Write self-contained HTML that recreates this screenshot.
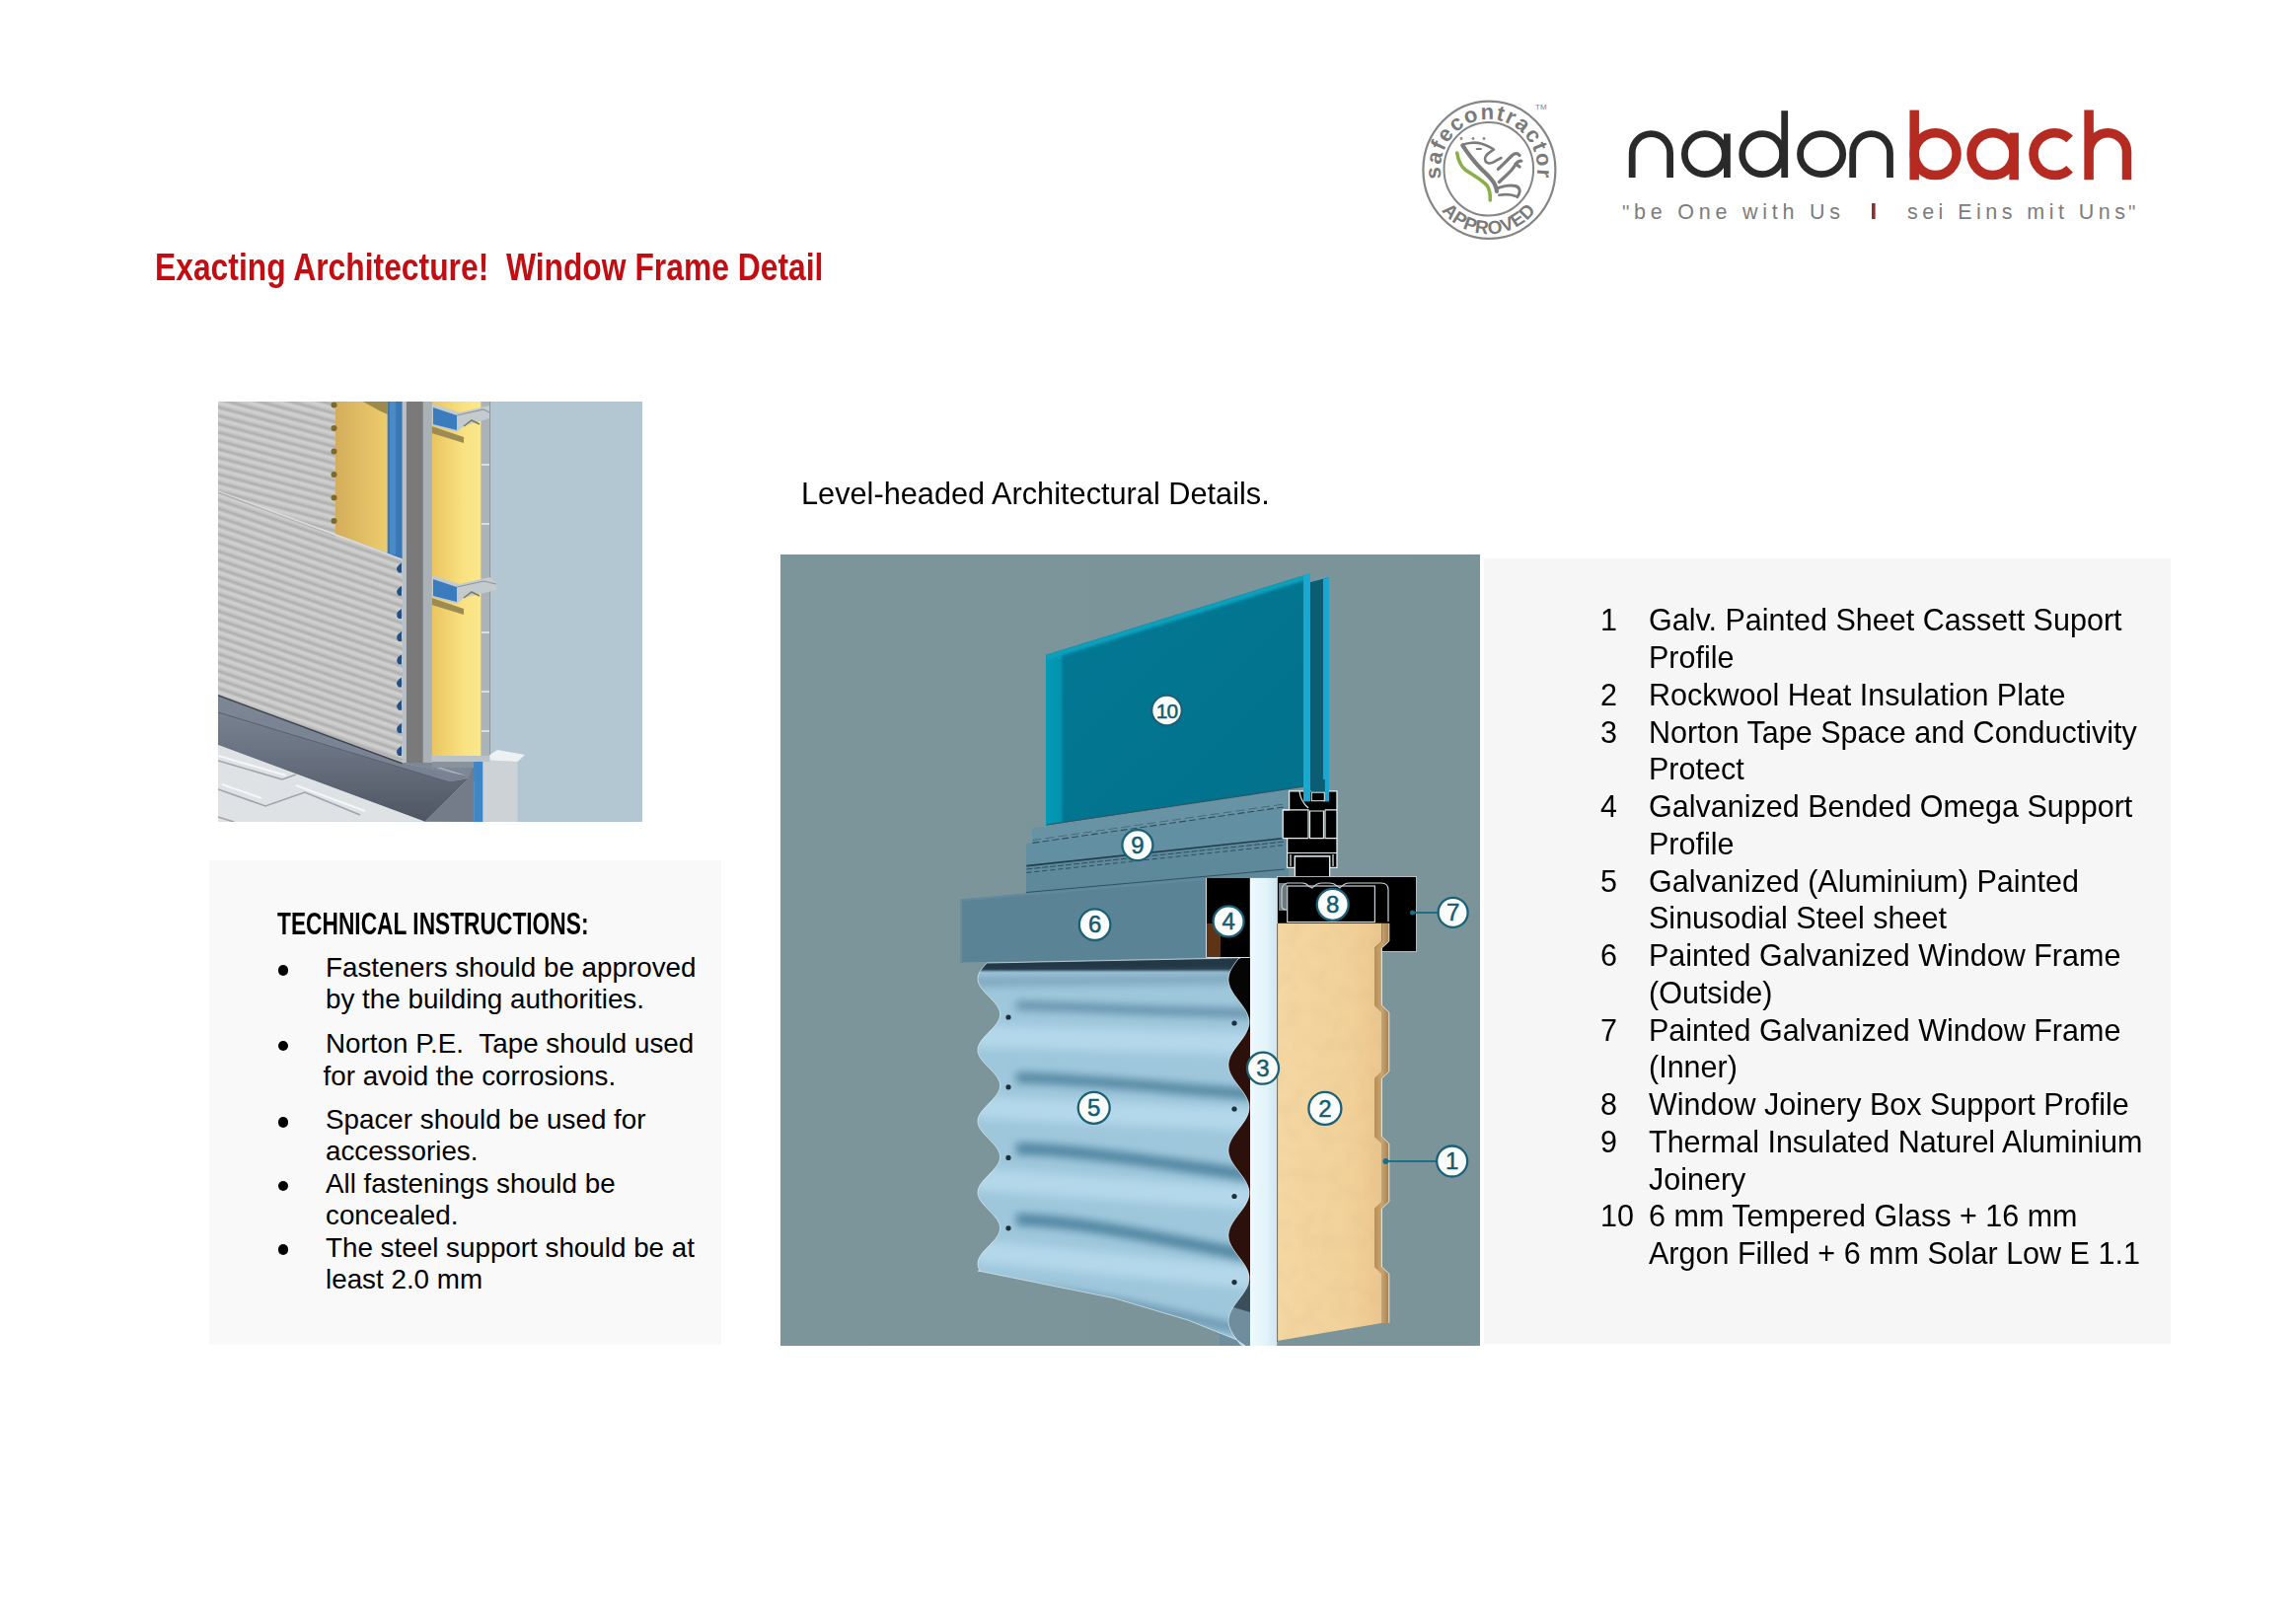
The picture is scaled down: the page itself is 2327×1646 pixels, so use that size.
<!DOCTYPE html>
<html><head><meta charset="utf-8">
<style>
html,body{margin:0;padding:0;background:#fff;}
body{width:2327px;height:1646px;position:relative;overflow:hidden;font-family:"Liberation Sans",sans-serif;color:#000;}
.abs{position:absolute;}
.t{position:absolute;white-space:pre;line-height:1;transform-origin:0 0;}
.bul{position:absolute;width:10.8px;height:10.8px;border-radius:50%;background:#000;}
svg{position:absolute;display:block;}
</style></head><body>
<svg width="800" height="180" viewBox="1400 85 800 180" style="left:1400px;top:85px">
<defs><path id="arcTop" d="M1468.9,201.3 A49,51 0 1 1 1549.1,201.3"/><path id="arcBot" d="M1447.9,183.3 A62,65 0 0 0 1570.1,183.3"/></defs>
<ellipse cx="1509.4" cy="172.3" rx="67" ry="69.6" fill="none" stroke="#858585" stroke-width="2.2"/>
<ellipse cx="1508.8" cy="171.3" rx="45.3" ry="47.3" fill="none" stroke="#858585" stroke-width="2"/>
<text font-family="Liberation Sans" font-size="22" font-weight="bold" fill="#7a7a7a" letter-spacing="1.6"><textPath href="#arcTop" startOffset="50%" text-anchor="middle">safecontractor</textPath></text>
<text font-family="Liberation Sans" font-size="19" font-weight="bold" fill="#7a7a7a" letter-spacing="0.5"><textPath href="#arcBot" startOffset="50%" text-anchor="middle">APPROVED</textPath></text>
<text x="1556" y="111" font-family="Liberation Sans" font-size="8" fill="#808080">TM</text>
<circle cx="1481" cy="140.5" r="1.4" fill="#8a8a8a"/>
<circle cx="1493" cy="140.5" r="1.4" fill="#8a8a8a"/>
<circle cx="1504" cy="140.5" r="1.4" fill="#8a8a8a"/>
<path d="M1482.3,147.4 C1486,153 1494,164 1501,171 C1508,178 1512,181 1515,187 C1517,191 1517,193 1516.9,194" fill="none" stroke="#7c7c7c" stroke-linecap="round" stroke-linejoin="round" stroke-width="4.2"/>
<path d="M1483,146.5 C1488,144.5 1496,144 1501,145.5 C1505,146.5 1510,149 1514,151.5 C1511,153.5 1508,155 1506,158 C1504,161 1505,165 1509,165.5 C1513,166 1517,162 1521.5,160" fill="none" stroke="#7c7c7c" stroke-linecap="round" stroke-linejoin="round" stroke-width="2.6"/>
<path d="M1496.6,151 L1501,151" fill="none" stroke="#7c7c7c" stroke-linecap="round" stroke-linejoin="round" stroke-width="1.8"/>
<path d="M1518.4,171.3 C1523,167 1529,161 1532,158 C1535,155 1538,155 1540,157.5" fill="none" stroke="#7c7c7c" stroke-linecap="round" stroke-linejoin="round" stroke-width="3.2"/>
<path d="M1519.4,184.5 C1524,180 1530,175 1533,171 C1536,167 1538,162 1541.8,163.2 M1536,166 L1540,169" fill="none" stroke="#7c7c7c" stroke-linecap="round" stroke-linejoin="round" stroke-width="3.2"/>
<path d="M1518.4,190.6 C1522,189 1530,187 1536,188.5 C1541,190 1541.5,195 1537.7,199.7" fill="none" stroke="#7c7c7c" stroke-linecap="round" stroke-linejoin="round" stroke-width="3"/>
<path d="M1519.4,197.7 C1524,197 1530,196.5 1535.7,198.7" fill="none" stroke="#7c7c7c" stroke-linecap="round" stroke-linejoin="round" stroke-width="2.6"/>
<path d="M1476.7,155 C1478,163 1480,168 1485,172 C1492,177 1502,182 1507,188 C1510,192 1510.5,197 1510.3,203" fill="none" stroke="#8bb04a" stroke-width="3.6" stroke-linecap="round"/>
<path d="M1654.2,180 V154.9 A19.2,19.2 0 0 1 1692.6,154.9 V180" fill="none" stroke="#2a2a2a" stroke-width="6.8"/>
<ellipse cx="1727.85" cy="156.15" rx="20.45" ry="20.45" fill="none" stroke="#2a2a2a" stroke-width="6.8"/><path d="M1750.4,135.5 V180" fill="none" stroke="#2a2a2a" stroke-width="6.8"/>
<ellipse cx="1786.15" cy="156.15" rx="20.45" ry="20.45" fill="none" stroke="#2a2a2a" stroke-width="6.8"/><path d="M1808.7,112.2 V180" fill="none" stroke="#2a2a2a" stroke-width="6.8"/>
<ellipse cx="1846.1" cy="156.15" rx="21.6" ry="20.45" fill="none" stroke="#2a2a2a" stroke-width="6.8"/>
<path d="M1877.7,180 V154.9 A18.9,19.2 0 0 1 1915.5,154.9 V180" fill="none" stroke="#2a2a2a" stroke-width="6.8"/>
<ellipse cx="1961.6" cy="156.1" rx="21.45" ry="21.45" fill="none" stroke="#b52a21" stroke-width="9.5"/><path d="M1940.2,111.6 V182.3" fill="none" stroke="#b52a21" stroke-width="9.5"/>
<ellipse cx="2019.5" cy="156.1" rx="21.45" ry="21.45" fill="none" stroke="#b52a21" stroke-width="9.5"/><path d="M2041.15,134.6 V182.3" fill="none" stroke="#b52a21" stroke-width="9.5"/>
<path d="M2097.6,140.9 A21.45,21.45 0 1 0 2097.6,171.3" fill="none" stroke="#b52a21" stroke-width="9.5"/>
<path d="M2117.1,111.6 V182.3 M2117.1,182.3 V153.85 A19.2,19.2 0 0 1 2155.5,153.85 V182.3" fill="none" stroke="#b52a21" stroke-width="9.5"/>
<text x="1644" y="221.7" font-family="Liberation Sans" font-size="21" fill="#858585">"</text>
<text x="1656" y="221.7" font-family="Liberation Sans" font-size="21.5" fill="#7c7c7c" textLength="209" lengthAdjust="spacing">be One with Us</text>
<rect x="1897" y="206" width="3.6" height="16" fill="#8a3030"/>
<text x="1933" y="221.7" font-family="Liberation Sans" font-size="21.5" fill="#7c7c7c" textLength="221" lengthAdjust="spacing">sei Eins mit Uns</text>
<text x="2157" y="221.7" font-family="Liberation Sans" font-size="21" fill="#858585">"</text>
</svg>
<div class="t" style="left:156.50px;top:252.44px;font-size:38.7px;font-weight:bold;color:#c20e12;transform:scaleX(0.8223);">Exacting Architecture!  Window Frame Detail</div>
<div class="t" style="left:812.00px;top:483.91px;font-size:32px;transform:scaleX(0.96);">Level-headed Architectural Details.</div>

<div class="abs" style="left:221px;top:407px;width:430px;height:426px;background:#b3c8d3;overflow:hidden;"><svg width="430" height="426" viewBox="221 407 430 426" style="left:0;top:0">
<defs>
<linearGradient id="cg" x1="0" y1="0" x2="0" y2="1"><stop offset="0" stop-color="#d4d4d4"/><stop offset="0.35" stop-color="#c6c6c6"/><stop offset="0.65" stop-color="#acacac"/><stop offset="1" stop-color="#d0d0d0"/></linearGradient>
<pattern id="corr" patternUnits="userSpaceOnUse" width="40" height="8.2" patternTransform="rotate(15)">
<rect width="40" height="8.2" fill="url(#cg)"/>
</pattern>
<pattern id="corr2" patternUnits="userSpaceOnUse" width="40" height="8.2" patternTransform="rotate(19)">
<rect width="40" height="8.2" fill="url(#cg)"/>
</pattern>
<linearGradient id="yel1" x1="0" y1="0" x2="1" y2="0"><stop offset="0" stop-color="#d4ad5c"/><stop offset="1" stop-color="#eccd6c"/></linearGradient>
<linearGradient id="yel2" x1="0" y1="0" x2="1" y2="0"><stop offset="0" stop-color="#e9c560"/><stop offset="0.6" stop-color="#f8e07e"/><stop offset="1" stop-color="#fbe88e"/></linearGradient>
<linearGradient id="sill" x1="0" y1="0" x2="0" y2="1"><stop offset="0" stop-color="#7d8796"/><stop offset="0.45" stop-color="#6a7382"/><stop offset="1" stop-color="#4f5662"/></linearGradient>
</defs>
<rect x="221" y="407" width="430" height="426" fill="#b3c7d2"/>
<rect x="437.5" y="407" width="50" height="361" fill="url(#yel2)"/>
<rect x="487.5" y="407" width="9" height="361" fill="#a9b3b8"/>
<path d="M496.5,407 L496.5,768" stroke="#8d979d" stroke-width="1"/>
<rect x="488" y="470" width="8" height="2" fill="#d6dde0"/>
<rect x="488" y="530" width="8" height="2" fill="#d6dde0"/>
<rect x="488" y="640" width="8" height="2" fill="#d6dde0"/>
<rect x="488" y="700" width="8" height="2" fill="#d6dde0"/>
<rect x="488" y="740" width="8" height="2" fill="#d6dde0"/>
<polygon points="437.5,409 466,418 496,411 496,416 496,424 470,432 463,438 437.5,431" fill="#c3cbcf"/>
<polygon points="439,413 463,421 463,436 439,430" fill="#3b7cbf"/>
<polygon points="437.5,432 470,443 470,449 437.5,439" fill="#9d8c52"/>
<path d="M463,421 L490,415 L496,418" stroke="#8e989d" stroke-width="1.2" fill="none"/>
<path d="M470,432 L478,426 L486,430" stroke="#7d7a55" stroke-width="1.5" fill="none"/>
<polygon points="437.5,583 466,592 496,585 503,590 503,598 470,606 463,612 437.5,605" fill="#c3cbcf"/>
<polygon points="439,587 463,595 463,610 439,604" fill="#3b7cbf"/>
<polygon points="437.5,606 470,617 470,623 437.5,613" fill="#9d8c52"/>
<path d="M463,595 L490,589 L503,592" stroke="#8e989d" stroke-width="1.2" fill="none"/>
<path d="M470,606 L478,600 L486,604" stroke="#7d7a55" stroke-width="1.5" fill="none"/>
<rect x="407.6" y="407" width="4.3" height="367" fill="#b9c1c8"/>
<rect x="411.9" y="407" width="17" height="367" fill="#7a7a7a"/>
<rect x="428.8" y="407" width="9" height="367" fill="#aab1b6"/>
<polygon points="339.6,407 392.7,407 392.7,560 339.6,541.6" fill="url(#yel1)"/>
<polygon points="368,407 392.7,407 392.7,420 384,416" fill="#9d8a4a"/>
<polygon points="392.7,407 407.6,407 407.6,567 392.7,562" fill="#3a77b6"/>
<rect x="395" y="407" width="6" height="155" fill="#4a8ac6"/>
<polygon points="221,407 339.6,407 339.6,541.6 407.6,567 407.6,774 221,704.8" fill="url(#corr)"/>
<polygon points="221,497.7 339.6,541.6 407.6,567 407.6,774 221,704.8" fill="url(#corr2)"/>
<path d="M221,497.7 L339.6,541.6 L407.6,567" stroke="#dedede" stroke-width="1.2" fill="none"/>
<path d="M221,499.5 L339.6,543.4" stroke="#a8a8a8" stroke-width="0.8" fill="none"/>
<circle cx="338.5" cy="410.6" r="3" fill="#7a6a2e"/>
<circle cx="338.5" cy="434.1" r="3" fill="#7a6a2e"/>
<circle cx="338.5" cy="457.6" r="3" fill="#7a6a2e"/>
<circle cx="338.5" cy="481.1" r="3" fill="#7a6a2e"/>
<circle cx="338.5" cy="504.6" r="3" fill="#7a6a2e"/>
<circle cx="338.5" cy="528.1" r="3" fill="#7a6a2e"/>
<path d="M407,570.5 Q399,575.5 404,580.5 L407,580.5 Z" fill="#244f80"/>
<path d="M407,593.7 Q399,598.7 404,603.7 L407,603.7 Z" fill="#244f80"/>
<path d="M407,616.9 Q399,621.9 404,626.9 L407,626.9 Z" fill="#244f80"/>
<path d="M407,640.1 Q399,645.1 404,650.1 L407,650.1 Z" fill="#244f80"/>
<path d="M407,663.3 Q399,668.3 404,673.3 L407,673.3 Z" fill="#244f80"/>
<path d="M407,686.5 Q399,691.5 404,696.5 L407,696.5 Z" fill="#244f80"/>
<path d="M407,709.7 Q399,714.7 404,719.7 L407,719.7 Z" fill="#244f80"/>
<path d="M407,732.9 Q399,737.9 404,742.9 L407,742.9 Z" fill="#244f80"/>
<path d="M407,756.1 Q399,761.1 404,766.1 L407,766.1 Z" fill="#244f80"/>
<polygon points="405,773 481,773 481,792 474,790 470,786" fill="#7d8896"/>
<path d="M438,776 L470,786" stroke="#a9b3bc" stroke-width="1.5"/>
<polygon points="221,704.8 407.6,773.8 470,786 474,790 430.6,832.7 221,755" fill="url(#sill)"/>
<polygon points="221,704.8 407.6,773.8 470,786 474,790 456,793 221,722" fill="#7b8595" opacity="0.9"/>
<path d="M221,704.8 L407.6,773.8" stroke="#3e4550" stroke-width="1.5"/>
<path d="M221,722 L456,793 L474,790" stroke="#59616c" stroke-width="1" fill="none"/>
<polygon points="221,755 430.6,832.7 221,833" fill="#dfe2e5"/>
<path d="M221,771 L286,790 M221,800 L269,817 L309,803 L365,826 M221,828 L237,833 M286,790 L300,785" stroke="#9ea4ab" stroke-width="1.6" fill="none"/>
<path d="M221,766 L290,786 M225,795 L265,809 M300,796 L370,822" stroke="#f4f6f8" stroke-width="2" fill="none"/>
<polygon points="430.6,832.7 474,790 480,776 480.2,833" fill="#737c88"/>
<rect x="438" y="768" width="42" height="10" fill="#8a939c"/>
<rect x="480.2" y="768" width="9.3" height="65" fill="#3f86c8"/>
<rect x="489.5" y="770" width="35" height="63" fill="#cdd2d7"/>
<polygon points="489.5,770 504,760 532,765 524.5,772" fill="#eef1f3"/>
<rect x="437.5" y="766" width="59" height="6" fill="#b9c3c8"/>
</svg></div>
<div class="abs" style="left:212px;top:872px;width:519px;height:491px;background:#f9f9f9;"></div>
<div class="t" style="left:281.00px;top:920.98px;font-size:30.5px;font-weight:bold;transform:scaleX(0.7457);">TECHNICAL INSTRUCTIONS:</div>
<div class="t" style="left:330.00px;top:966.87px;font-size:27.8px;">Fasteners should be approved</div>
<div class="t" style="left:330.00px;top:999.17px;font-size:27.8px;">by the building authorities.</div>
<div class="t" style="left:330.00px;top:1044.27px;font-size:27.8px;">Norton P.E.<span style="margin-left:8px"></span> Tape should used</div>
<div class="t" style="left:327.50px;top:1076.57px;font-size:27.8px;">for avoid the corrosions.</div>
<div class="t" style="left:330.00px;top:1121.17px;font-size:27.8px;">Spacer should be used for</div>
<div class="t" style="left:330.00px;top:1152.87px;font-size:27.8px;">accessories.</div>
<div class="t" style="left:330.00px;top:1186.27px;font-size:27.8px;">All fastenings should be</div>
<div class="t" style="left:330.00px;top:1217.97px;font-size:27.8px;">concealed.</div>
<div class="t" style="left:330.00px;top:1250.87px;font-size:27.8px;">The steel support should be at</div>
<div class="t" style="left:330.00px;top:1283.27px;font-size:27.8px;">least 2.0 mm</div>
<div class="bul" style="left:281.6px;top:977.9px"></div>
<div class="bul" style="left:281.6px;top:1054.6px"></div>
<div class="bul" style="left:281.6px;top:1131.8px"></div>
<div class="bul" style="left:281.6px;top:1196.5px"></div>
<div class="bul" style="left:281.6px;top:1261.2px"></div>

<div class="abs" style="left:1504px;top:566px;width:696px;height:796px;background:#f6f6f6;"></div>
<div class="t" style="left:1622.00px;top:613.25px;font-size:31.6px;transform:scaleX(0.966);">1</div>
<div class="t" style="left:1670.50px;top:613.25px;font-size:31.6px;transform:scaleX(0.966);">Galv. Painted Sheet Cassett Suport</div>
<div class="t" style="left:1670.50px;top:651.01px;font-size:31.6px;transform:scaleX(0.966);">Profile</div>
<div class="t" style="left:1622.00px;top:688.77px;font-size:31.6px;transform:scaleX(0.966);">2</div>
<div class="t" style="left:1670.50px;top:688.77px;font-size:31.6px;transform:scaleX(0.966);">Rockwool Heat Insulation Plate</div>
<div class="t" style="left:1622.00px;top:726.53px;font-size:31.6px;transform:scaleX(0.966);">3</div>
<div class="t" style="left:1670.50px;top:726.53px;font-size:31.6px;transform:scaleX(0.966);">Norton Tape Space and Conductivity</div>
<div class="t" style="left:1670.50px;top:764.29px;font-size:31.6px;transform:scaleX(0.966);">Protect</div>
<div class="t" style="left:1622.00px;top:802.05px;font-size:31.6px;transform:scaleX(0.966);">4</div>
<div class="t" style="left:1670.50px;top:802.05px;font-size:31.6px;transform:scaleX(0.966);">Galvanized Bended Omega Support</div>
<div class="t" style="left:1670.50px;top:839.81px;font-size:31.6px;transform:scaleX(0.966);">Profile</div>
<div class="t" style="left:1622.00px;top:877.57px;font-size:31.6px;transform:scaleX(0.966);">5</div>
<div class="t" style="left:1670.50px;top:877.57px;font-size:31.6px;transform:scaleX(0.966);">Galvanized (Aluminium) Painted</div>
<div class="t" style="left:1670.50px;top:915.33px;font-size:31.6px;transform:scaleX(0.966);">Sinusodial Steel sheet</div>
<div class="t" style="left:1622.00px;top:953.09px;font-size:31.6px;transform:scaleX(0.966);">6</div>
<div class="t" style="left:1670.50px;top:953.09px;font-size:31.6px;transform:scaleX(0.966);">Painted Galvanized Window Frame</div>
<div class="t" style="left:1670.50px;top:990.85px;font-size:31.6px;transform:scaleX(0.966);">(Outside)</div>
<div class="t" style="left:1622.00px;top:1028.61px;font-size:31.6px;transform:scaleX(0.966);">7</div>
<div class="t" style="left:1670.50px;top:1028.61px;font-size:31.6px;transform:scaleX(0.966);">Painted Galvanized Window Frame</div>
<div class="t" style="left:1670.50px;top:1066.37px;font-size:31.6px;transform:scaleX(0.966);">(Inner)</div>
<div class="t" style="left:1622.00px;top:1104.13px;font-size:31.6px;transform:scaleX(0.966);">8</div>
<div class="t" style="left:1670.50px;top:1104.13px;font-size:31.6px;transform:scaleX(0.966);">Window Joinery Box Support Profile</div>
<div class="t" style="left:1622.00px;top:1141.89px;font-size:31.6px;transform:scaleX(0.966);">9</div>
<div class="t" style="left:1670.50px;top:1141.89px;font-size:31.6px;transform:scaleX(0.966);">Thermal Insulated Naturel Aluminium</div>
<div class="t" style="left:1670.50px;top:1179.65px;font-size:31.6px;transform:scaleX(0.966);">Joinery</div>
<div class="t" style="left:1622.00px;top:1217.41px;font-size:31.6px;transform:scaleX(0.966);">10</div>
<div class="t" style="left:1670.50px;top:1217.41px;font-size:31.6px;transform:scaleX(0.966);">6 mm Tempered Glass + 16 mm</div>
<div class="t" style="left:1670.50px;top:1255.17px;font-size:31.6px;transform:scaleX(0.966);">Argon Filled + 6 mm Solar Low E 1.1</div>

<div class="abs" style="left:791px;top:562px;width:709px;height:802px;background:#7e9599;overflow:hidden;"><svg width="709" height="802" viewBox="791 562 709 802" style="left:0;top:0">
<defs>
<linearGradient id="bgG" x1="0" y1="0" x2="1" y2="0"><stop offset="0" stop-color="#7c959a"/><stop offset="1" stop-color="#7b949a"/></linearGradient>
<linearGradient id="tapeG" x1="0" y1="0" x2="1" y2="0"><stop offset="0" stop-color="#eefaff"/><stop offset="0.6" stop-color="#e2f3fa"/><stop offset="1" stop-color="#cfe6f1"/></linearGradient>
<linearGradient id="glassG" x1="0" y1="0" x2="1" y2="1"><stop offset="0" stop-color="#027995"/><stop offset="1" stop-color="#02718c"/></linearGradient>
<linearGradient id="sheetG" x1="0" y1="0" x2="1" y2="0"><stop offset="0" stop-color="#a4c8dc"/><stop offset="0.6" stop-color="#a8cde0"/><stop offset="1" stop-color="#98bfd3"/></linearGradient>
<linearGradient id="rwG" x1="0" y1="0" x2="1" y2="0"><stop offset="0" stop-color="#f5d7a2"/><stop offset="0.7" stop-color="#f2d199"/><stop offset="1" stop-color="#ebc68e"/></linearGradient>
<filter id="blur3" x="-20%" y="-50%" width="140%" height="200%"><feGaussianBlur stdDeviation="4"/></filter>
<filter id="blur1"><feGaussianBlur stdDeviation="1"/></filter>
<linearGradient id="bandG" x1="0" y1="0" x2="1" y2="0"><stop offset="0" stop-color="#b58e58"/><stop offset="0.5" stop-color="#c9a36c"/><stop offset="1" stop-color="#a88050"/></linearGradient>
<filter id="rwTex" filterUnits="userSpaceOnUse" x="1290" y="930" width="120" height="440"><feTurbulence type="fractalNoise" baseFrequency="0.06" numOctaves="2" seed="3"/><feColorMatrix type="matrix" values="0 0 0 0 0.55  0 0 0 0 0.4  0 0 0 0 0.2  0 0 0 -1.6 1.0"/><feComposite in2="SourceGraphic" operator="in"/></filter>
</defs>
<rect x="791" y="562" width="709" height="802" fill="url(#bgG)"/>
<polygon points="1328,590 1347,585 1347,800 1328,804" fill="#0b5d74"/>
<polygon points="1341,587 1347,585 1347,800 1341,801" fill="#1aa6d0"/>
<polygon points="1328,590 1347,585 1349,584 1330,589" fill="#2ab4da"/>
<polygon points="1060,663.8 1327,581.5 1323,797 1060,836.5" fill="url(#glassG)"/>
<linearGradient id="glL" x1="0" y1="0" x2="1" y2="0"><stop offset="0" stop-color="#049ab6"/><stop offset="0.8" stop-color="#0393af"/><stop offset="1" stop-color="#02829e"/></linearGradient><polygon points="1060,663.8 1077.5,658.4 1077.5,834 1060,836.5" fill="url(#glL)"/>
<filter id="gbl" filterUnits="userSpaceOnUse" x="1040" y="560" width="310" height="140"><feGaussianBlur stdDeviation="1.5"/></filter><clipPath id="gcl"><polygon points="1061,663.5 1327,581.5 1323,797 1061,836.5"/></clipPath><g clip-path="url(#gcl)"><polygon points="1055,664 1330,579 1330,586 1055,671" fill="#0aa0bd" filter="url(#gbl)"/></g>
<polygon points="1321,583 1328,581.5 1328,796 1321,797" fill="#19a8d2"/>

<polygon points="1046,840 1306,800 1306,892 1040,906 1040,855 1046,855" fill="#5e899b"/>
<polygon points="1046,840 1306,800 1306,818 1046,855" fill="#6893a5"/>
<polygon points="1040,855 1306,818 1306,849 1040,877.5" fill="#6290a2"/>
<path d="M1061,836 L1323,797" stroke="#2d5566" stroke-width="1.2" fill="none"/>
<path d="M1046.5,854.4 L1302,817.8" stroke="#2c4f5e" stroke-width="1.1" stroke-dasharray="7,3" fill="none"/>
<path d="M1046.5,851.6 L1302,815" stroke="#3b6272" stroke-width="0.8" stroke-dasharray="9,4" fill="none"/>
<path d="M1040.4,877.6 L1302,849.5" stroke="#1f3d4a" stroke-width="1.6" fill="none"/>
<path d="M1040.4,881 L1302,853" stroke="#2c4f5e" stroke-width="1" stroke-dasharray="6,2" fill="none"/>
<path d="M1040.4,884.5 L1302,856.5" stroke="#2c4f5e" stroke-width="1" stroke-dasharray="5,3" fill="none"/>
<path d="M1040,904.5 L1302,881" stroke="#2f5363" stroke-width="1.1" fill="none"/>
<g stroke="#e3eef2" stroke-width="1.3" fill="#000">
<path d="M1306.6,801.9 L1355,801.9 L1355,879.4 L1347.6,879.4 L1347.6,868 L1312.4,868 L1312.4,879.4 L1304.6,879.4 L1304.6,849.6 L1300.2,849.6 L1300.2,820.8 L1306.6,820.8 Z"/>
<rect x="1312.4" y="868" width="35.2" height="21.6"/>
</g>
<g fill="none" stroke="#e3eef2" stroke-width="1.2">
<path d="M1300.2,820.8 L1326,820.8 L1326,849.6 M1304.6,849.6 L1326,849.6"/>
<path d="M1327.5,822 L1341.5,822 L1341.5,849.6 L1327.5,849.6 Z"/>
<path d="M1343,820.8 L1355,820.8 M1343,820.8 L1343,849.6 L1355,849.6"/>
<path d="M1304.6,864.5 L1355,864.5"/>
<path d="M1308,866 L1308,878 M1351,866 L1351,878"/>
<path d="M1317,802 Q1318,812 1326,819"/>
</g>
<rect x="1321" y="790" width="7" height="22.4" fill="#19a8d2"/>
<rect x="1341" y="790" width="6" height="22.4" fill="#1aa6d0"/>
<rect x="1328.6" y="790" width="14.2" height="13" fill="#0b5d74"/>
<rect x="1329.3" y="803.2" width="13" height="8.5" fill="#000" stroke="#e3eef2" stroke-width="1"/>
<rect x="1294.5" y="888.5" width="141" height="76" fill="#000" stroke="#cfd8dc" stroke-width="0.8"/>
<g fill="none" stroke="#c9d3d8" stroke-width="1.2">
<path d="M1299,902 Q1299,896 1305,895 L1320,895 Q1324,895 1326,898 L1330,900 Q1334,895 1340,895 L1348,895 Q1352,895 1355,898 L1358,900 Q1362,895 1368,895 L1400,895 Q1407,895 1407,902 L1407,934"/>
<rect x="1304.7" y="898" width="88.7" height="36.5"/>
<path d="M1299,902 L1299,918 Q1299,922 1304,922"/>
</g>
<rect x="1296" y="895" width="8" height="28" fill="#b9cbd4" opacity="0.6"/>
<polygon points="1294.5,935.8 1400.4,935.8 1400.4,954.0 1393.0,961.0 1393.0,1019.0 1400.4,1026.0 1400.4,1086.0 1393.0,1093.0 1393.0,1152.0 1400.4,1159.0 1400.4,1218.0 1393.0,1225.0 1393.0,1284.0 1400.4,1291.0 1400.4,1341.0 1294.5,1359.0" fill="url(#rwG)"/>
<polygon points="1294.5,935.8 1400.4,935.8 1400.4,954.0 1393.0,961.0 1393.0,1019.0 1400.4,1026.0 1400.4,1086.0 1393.0,1093.0 1393.0,1152.0 1400.4,1159.0 1400.4,1218.0 1393.0,1225.0 1393.0,1284.0 1400.4,1291.0 1400.4,1341.0 1294.5,1359.0" fill="#000" filter="url(#rwTex)" opacity="0.14"/>
<polygon points="1400.4,935.8 1400.4,954.0 1393.0,961.0 1393.0,1019.0 1400.4,1026.0 1400.4,1086.0 1393.0,1093.0 1393.0,1152.0 1400.4,1159.0 1400.4,1218.0 1393.0,1225.0 1393.0,1284.0 1400.4,1291.0 1400.4,1341.0 1407.8,1341.0 1407.8,1291.0 1400.4,1284.0 1400.4,1225.0 1407.8,1218.0 1407.8,1159.0 1400.4,1152.0 1400.4,1093.0 1407.8,1086.0 1407.8,1026.0 1400.4,1019.0 1400.4,961.0 1407.8,954.0 1407.8,935.8" fill="url(#bandG)"/>
<polyline points="1407.8,935.8 1407.8,954.0 1400.4,961.0 1400.4,1019.0 1407.8,1026.0 1407.8,1086.0 1400.4,1093.0 1400.4,1152.0 1407.8,1159.0 1407.8,1218.0 1400.4,1225.0 1400.4,1284.0 1407.8,1291.0 1407.8,1341.0" fill="none" stroke="#e2e8e6" stroke-width="1"/>
<path d="M1294.5,936 L1294.5,1360" stroke="#6a5a40" stroke-width="1.2"/>
<rect x="1266.7" y="889.9" width="27.5" height="474.1" fill="url(#tapeG)"/>
<polygon points="973.3,911.5 1222,890 1222,970.5 973.3,975.5" fill="#5b8396"/>
<polygon points="973.3,911.5 1222,890 1222,892 973.3,913.5" fill="#628a9c"/>
<polygon points="973.3,911.5 975,911.3 975,975.4 973.3,975.5" fill="#6a90a0"/>
<rect x="1222" y="890" width="44.7" height="80.5" fill="#000"/>
<rect x="1223" y="936" width="14" height="34" fill="#5e3316"/>
<path d="M1222.5,890 L1222.5,970.5 L1266.7,970.5" stroke="#d8e2e6" stroke-width="1" fill="none"/>
<!-- SHEET -->
<rect x="1236" y="971" width="31" height="393" fill="#2c100b"/>
<polygon points="1236,1318 1267,1318 1267,1364 1236,1364" fill="#6f8d9c"/>
<polygon points="1240,1322 1267,1300 1267,1330" fill="#3b4f5a"/>
<rect x="1236" y="971" width="31" height="75" fill="#050505"/>
<filter id="bl4" filterUnits="userSpaceOnUse" x="950" y="950" width="360" height="450"><feGaussianBlur stdDeviation="4"/></filter>
<filter id="bl2" filterUnits="userSpaceOnUse" x="950" y="950" width="360" height="450"><feGaussianBlur stdDeviation="2"/></filter>
<clipPath id="shc"><polygon points="1003.0,976.0 1257.0,971.0 1255.6,971.0 1254.1,973.0 1252.6,975.0 1251.2,977.0 1249.8,979.0 1248.6,981.0 1247.5,983.0 1246.6,985.0 1245.9,987.0 1245.4,989.0 1245.1,991.0 1245.0,993.0 1245.1,995.0 1245.5,997.0 1246.1,999.0 1246.8,1001.0 1247.8,1003.0 1248.9,1005.0 1250.1,1007.0 1251.5,1009.0 1253.0,1011.0 1254.5,1013.0 1256.0,1015.0 1257.5,1017.0 1259.0,1019.0 1260.4,1021.0 1261.7,1023.0 1262.8,1025.0 1263.8,1027.0 1264.7,1029.0 1265.3,1031.0 1265.8,1033.0 1266.0,1035.0 1266.0,1037.0 1265.8,1039.0 1265.3,1041.0 1264.7,1043.0 1263.8,1045.0 1262.8,1047.0 1261.7,1049.0 1260.4,1051.0 1259.0,1053.0 1257.5,1055.0 1256.0,1057.0 1254.5,1059.0 1253.0,1061.0 1251.5,1063.0 1250.1,1065.0 1248.9,1067.0 1247.8,1069.0 1246.8,1071.0 1246.1,1073.0 1245.5,1075.0 1245.1,1077.0 1245.0,1079.0 1245.1,1081.0 1245.4,1083.0 1245.9,1085.0 1246.6,1087.0 1247.5,1089.0 1248.6,1091.0 1249.8,1093.0 1251.2,1095.0 1252.6,1097.0 1254.1,1099.0 1255.6,1101.0 1257.1,1103.0 1258.6,1105.0 1260.0,1107.0 1261.3,1109.0 1262.5,1111.0 1263.6,1113.0 1264.5,1115.0 1265.2,1117.0 1265.7,1119.0 1265.9,1121.0 1266.0,1123.0 1265.8,1125.0 1265.4,1127.0 1264.9,1129.0 1264.1,1131.0 1263.1,1133.0 1262.0,1135.0 1260.7,1137.0 1259.3,1139.0 1257.9,1141.0 1256.4,1143.0 1254.8,1145.0 1253.3,1147.0 1251.9,1149.0 1250.5,1151.0 1249.2,1153.0 1248.0,1155.0 1247.1,1157.0 1246.2,1159.0 1245.6,1161.0 1245.2,1163.0 1245.0,1165.0 1245.0,1167.0 1245.3,1169.0 1245.8,1171.0 1246.4,1173.0 1247.3,1175.0 1248.3,1177.0 1249.5,1179.0 1250.8,1181.0 1252.2,1183.0 1253.7,1185.0 1255.2,1187.0 1256.7,1189.0 1258.2,1191.0 1259.7,1193.0 1261.0,1195.0 1262.3,1197.0 1263.3,1199.0 1264.3,1201.0 1265.0,1203.0 1265.6,1205.0 1265.9,1207.0 1266.0,1209.0 1265.9,1211.0 1265.6,1213.0 1265.0,1215.0 1264.3,1217.0 1263.3,1219.0 1262.3,1221.0 1261.0,1223.0 1259.7,1225.0 1258.2,1227.0 1256.7,1229.0 1255.2,1231.0 1253.7,1233.0 1252.2,1235.0 1250.8,1237.0 1249.5,1239.0 1248.3,1241.0 1247.3,1243.0 1246.4,1245.0 1245.8,1247.0 1245.3,1249.0 1245.0,1251.0 1245.0,1253.0 1245.2,1255.0 1245.6,1257.0 1246.2,1259.0 1247.1,1261.0 1248.0,1263.0 1249.2,1265.0 1250.5,1267.0 1251.9,1269.0 1253.3,1271.0 1254.8,1273.0 1256.4,1275.0 1257.9,1277.0 1259.3,1279.0 1260.7,1281.0 1262.0,1283.0 1263.1,1285.0 1264.1,1287.0 1264.9,1289.0 1265.4,1291.0 1265.8,1293.0 1266.0,1295.0 1265.9,1297.0 1265.7,1299.0 1265.2,1301.0 1264.5,1303.0 1263.6,1305.0 1262.5,1307.0 1261.3,1309.0 1260.0,1311.0 1258.6,1313.0 1257.1,1315.0 1255.6,1317.0 1254.1,1319.0 1252.6,1321.0 1251.2,1323.0 1249.8,1325.0 1248.6,1327.0 1247.5,1329.0 1246.6,1331.0 1245.9,1333.0 1245.4,1335.0 1245.1,1337.0 1245.0,1339.0 1245.1,1341.0 1245.5,1343.0 1246.1,1345.0 1246.8,1347.0 1247.8,1349.0 1248.9,1351.0 1250.1,1353.0 1251.5,1355.0 1253.0,1357.0 1254.5,1359.0 1256.0,1361.0 1257.5,1363.0 1262,1364 1253.6,1358 1204,1338 1129,1315.7 1054.6,1300.8 991,1288 993.1,1288.0 992.1,1286.0 991.4,1284.0 991.1,1282.0 991.0,1280.0 991.3,1278.0 992.0,1276.0 992.9,1274.0 994.2,1272.0 995.6,1270.0 997.3,1268.0 999.1,1266.0 1001.1,1264.0 1003.0,1262.0 1005.0,1260.0 1006.8,1258.0 1008.6,1256.0 1010.1,1254.0 1011.4,1252.0 1012.4,1250.0 1013.1,1248.0 1013.5,1246.0 1013.6,1244.0 1013.3,1242.0 1012.7,1240.0 1011.7,1238.0 1010.5,1236.0 1009.0,1234.0 1007.4,1232.0 1005.5,1230.0 1003.6,1228.0 1001.7,1226.0 999.7,1224.0 997.9,1222.0 996.1,1220.0 994.6,1218.0 993.3,1216.0 992.2,1214.0 991.5,1212.0 991.1,1210.0 991.0,1208.0 991.3,1206.0 991.9,1204.0 992.8,1202.0 994.0,1200.0 995.5,1198.0 997.1,1196.0 999.0,1194.0 1000.9,1192.0 1002.8,1190.0 1004.8,1188.0 1006.7,1186.0 1008.4,1184.0 1010.0,1182.0 1011.3,1180.0 1012.3,1178.0 1013.1,1176.0 1013.5,1174.0 1013.6,1172.0 1013.3,1170.0 1012.7,1168.0 1011.8,1166.0 1010.6,1164.0 1009.2,1162.0 1007.5,1160.0 1005.7,1158.0 1003.8,1156.0 1001.9,1154.0 999.9,1152.0 998.0,1150.0 996.3,1148.0 994.7,1146.0 993.4,1144.0 992.3,1142.0 991.6,1140.0 991.1,1138.0 991.0,1136.0 991.2,1134.0 991.8,1132.0 992.7,1130.0 993.9,1128.0 995.3,1126.0 997.0,1124.0 998.8,1122.0 1000.7,1120.0 1002.6,1118.0 1004.6,1116.0 1006.5,1114.0 1008.2,1112.0 1009.8,1110.0 1011.2,1108.0 1012.2,1106.0 1013.0,1104.0 1013.5,1102.0 1013.6,1100.0 1013.4,1098.0 1012.8,1096.0 1011.9,1094.0 1010.8,1092.0 1009.4,1090.0 1007.7,1088.0 1005.9,1086.0 1004.0,1084.0 1002.1,1082.0 1000.1,1080.0 998.2,1078.0 996.5,1076.0 994.9,1074.0 993.5,1072.0 992.4,1070.0 991.6,1068.0 991.1,1066.0 991.0,1064.0 991.2,1062.0 991.7,1060.0 992.6,1058.0 993.8,1056.0 995.2,1054.0 996.8,1052.0 998.6,1050.0 1000.5,1048.0 1002.4,1046.0 1004.4,1044.0 1006.3,1042.0 1008.1,1040.0 1009.7,1038.0 1011.0,1036.0 1012.1,1034.0 1013.0,1032.0 1013.4,1030.0 1013.6,1028.0 1013.4,1026.0 1012.9,1024.0 1012.0,1022.0 1010.9,1020.0 1009.5,1018.0 1007.9,1016.0 1006.1,1014.0 1004.2,1012.0 1002.3,1010.0 1000.3,1008.0 998.4,1006.0 996.6,1004.0 995.0,1002.0 993.6,1000.0 992.5,998.0 991.7,996.0 991.2,994.0 991.0,992.0 991.2,990.0 991.7,988.0 992.5,986.0 993.6,984.0 995.0,982.0 996.6,980.0 998.4,978.0 1000.3,976.0"/></clipPath>
<polygon points="1003.0,976.0 1257.0,971.0 1255.6,971.0 1254.1,973.0 1252.6,975.0 1251.2,977.0 1249.8,979.0 1248.6,981.0 1247.5,983.0 1246.6,985.0 1245.9,987.0 1245.4,989.0 1245.1,991.0 1245.0,993.0 1245.1,995.0 1245.5,997.0 1246.1,999.0 1246.8,1001.0 1247.8,1003.0 1248.9,1005.0 1250.1,1007.0 1251.5,1009.0 1253.0,1011.0 1254.5,1013.0 1256.0,1015.0 1257.5,1017.0 1259.0,1019.0 1260.4,1021.0 1261.7,1023.0 1262.8,1025.0 1263.8,1027.0 1264.7,1029.0 1265.3,1031.0 1265.8,1033.0 1266.0,1035.0 1266.0,1037.0 1265.8,1039.0 1265.3,1041.0 1264.7,1043.0 1263.8,1045.0 1262.8,1047.0 1261.7,1049.0 1260.4,1051.0 1259.0,1053.0 1257.5,1055.0 1256.0,1057.0 1254.5,1059.0 1253.0,1061.0 1251.5,1063.0 1250.1,1065.0 1248.9,1067.0 1247.8,1069.0 1246.8,1071.0 1246.1,1073.0 1245.5,1075.0 1245.1,1077.0 1245.0,1079.0 1245.1,1081.0 1245.4,1083.0 1245.9,1085.0 1246.6,1087.0 1247.5,1089.0 1248.6,1091.0 1249.8,1093.0 1251.2,1095.0 1252.6,1097.0 1254.1,1099.0 1255.6,1101.0 1257.1,1103.0 1258.6,1105.0 1260.0,1107.0 1261.3,1109.0 1262.5,1111.0 1263.6,1113.0 1264.5,1115.0 1265.2,1117.0 1265.7,1119.0 1265.9,1121.0 1266.0,1123.0 1265.8,1125.0 1265.4,1127.0 1264.9,1129.0 1264.1,1131.0 1263.1,1133.0 1262.0,1135.0 1260.7,1137.0 1259.3,1139.0 1257.9,1141.0 1256.4,1143.0 1254.8,1145.0 1253.3,1147.0 1251.9,1149.0 1250.5,1151.0 1249.2,1153.0 1248.0,1155.0 1247.1,1157.0 1246.2,1159.0 1245.6,1161.0 1245.2,1163.0 1245.0,1165.0 1245.0,1167.0 1245.3,1169.0 1245.8,1171.0 1246.4,1173.0 1247.3,1175.0 1248.3,1177.0 1249.5,1179.0 1250.8,1181.0 1252.2,1183.0 1253.7,1185.0 1255.2,1187.0 1256.7,1189.0 1258.2,1191.0 1259.7,1193.0 1261.0,1195.0 1262.3,1197.0 1263.3,1199.0 1264.3,1201.0 1265.0,1203.0 1265.6,1205.0 1265.9,1207.0 1266.0,1209.0 1265.9,1211.0 1265.6,1213.0 1265.0,1215.0 1264.3,1217.0 1263.3,1219.0 1262.3,1221.0 1261.0,1223.0 1259.7,1225.0 1258.2,1227.0 1256.7,1229.0 1255.2,1231.0 1253.7,1233.0 1252.2,1235.0 1250.8,1237.0 1249.5,1239.0 1248.3,1241.0 1247.3,1243.0 1246.4,1245.0 1245.8,1247.0 1245.3,1249.0 1245.0,1251.0 1245.0,1253.0 1245.2,1255.0 1245.6,1257.0 1246.2,1259.0 1247.1,1261.0 1248.0,1263.0 1249.2,1265.0 1250.5,1267.0 1251.9,1269.0 1253.3,1271.0 1254.8,1273.0 1256.4,1275.0 1257.9,1277.0 1259.3,1279.0 1260.7,1281.0 1262.0,1283.0 1263.1,1285.0 1264.1,1287.0 1264.9,1289.0 1265.4,1291.0 1265.8,1293.0 1266.0,1295.0 1265.9,1297.0 1265.7,1299.0 1265.2,1301.0 1264.5,1303.0 1263.6,1305.0 1262.5,1307.0 1261.3,1309.0 1260.0,1311.0 1258.6,1313.0 1257.1,1315.0 1255.6,1317.0 1254.1,1319.0 1252.6,1321.0 1251.2,1323.0 1249.8,1325.0 1248.6,1327.0 1247.5,1329.0 1246.6,1331.0 1245.9,1333.0 1245.4,1335.0 1245.1,1337.0 1245.0,1339.0 1245.1,1341.0 1245.5,1343.0 1246.1,1345.0 1246.8,1347.0 1247.8,1349.0 1248.9,1351.0 1250.1,1353.0 1251.5,1355.0 1253.0,1357.0 1254.5,1359.0 1256.0,1361.0 1257.5,1363.0 1262,1364 1253.6,1358 1204,1338 1129,1315.7 1054.6,1300.8 991,1288 993.1,1288.0 992.1,1286.0 991.4,1284.0 991.1,1282.0 991.0,1280.0 991.3,1278.0 992.0,1276.0 992.9,1274.0 994.2,1272.0 995.6,1270.0 997.3,1268.0 999.1,1266.0 1001.1,1264.0 1003.0,1262.0 1005.0,1260.0 1006.8,1258.0 1008.6,1256.0 1010.1,1254.0 1011.4,1252.0 1012.4,1250.0 1013.1,1248.0 1013.5,1246.0 1013.6,1244.0 1013.3,1242.0 1012.7,1240.0 1011.7,1238.0 1010.5,1236.0 1009.0,1234.0 1007.4,1232.0 1005.5,1230.0 1003.6,1228.0 1001.7,1226.0 999.7,1224.0 997.9,1222.0 996.1,1220.0 994.6,1218.0 993.3,1216.0 992.2,1214.0 991.5,1212.0 991.1,1210.0 991.0,1208.0 991.3,1206.0 991.9,1204.0 992.8,1202.0 994.0,1200.0 995.5,1198.0 997.1,1196.0 999.0,1194.0 1000.9,1192.0 1002.8,1190.0 1004.8,1188.0 1006.7,1186.0 1008.4,1184.0 1010.0,1182.0 1011.3,1180.0 1012.3,1178.0 1013.1,1176.0 1013.5,1174.0 1013.6,1172.0 1013.3,1170.0 1012.7,1168.0 1011.8,1166.0 1010.6,1164.0 1009.2,1162.0 1007.5,1160.0 1005.7,1158.0 1003.8,1156.0 1001.9,1154.0 999.9,1152.0 998.0,1150.0 996.3,1148.0 994.7,1146.0 993.4,1144.0 992.3,1142.0 991.6,1140.0 991.1,1138.0 991.0,1136.0 991.2,1134.0 991.8,1132.0 992.7,1130.0 993.9,1128.0 995.3,1126.0 997.0,1124.0 998.8,1122.0 1000.7,1120.0 1002.6,1118.0 1004.6,1116.0 1006.5,1114.0 1008.2,1112.0 1009.8,1110.0 1011.2,1108.0 1012.2,1106.0 1013.0,1104.0 1013.5,1102.0 1013.6,1100.0 1013.4,1098.0 1012.8,1096.0 1011.9,1094.0 1010.8,1092.0 1009.4,1090.0 1007.7,1088.0 1005.9,1086.0 1004.0,1084.0 1002.1,1082.0 1000.1,1080.0 998.2,1078.0 996.5,1076.0 994.9,1074.0 993.5,1072.0 992.4,1070.0 991.6,1068.0 991.1,1066.0 991.0,1064.0 991.2,1062.0 991.7,1060.0 992.6,1058.0 993.8,1056.0 995.2,1054.0 996.8,1052.0 998.6,1050.0 1000.5,1048.0 1002.4,1046.0 1004.4,1044.0 1006.3,1042.0 1008.1,1040.0 1009.7,1038.0 1011.0,1036.0 1012.1,1034.0 1013.0,1032.0 1013.4,1030.0 1013.6,1028.0 1013.4,1026.0 1012.9,1024.0 1012.0,1022.0 1010.9,1020.0 1009.5,1018.0 1007.9,1016.0 1006.1,1014.0 1004.2,1012.0 1002.3,1010.0 1000.3,1008.0 998.4,1006.0 996.6,1004.0 995.0,1002.0 993.6,1000.0 992.5,998.0 991.7,996.0 991.2,994.0 991.0,992.0 991.2,990.0 991.7,988.0 992.5,986.0 993.6,984.0 995.0,982.0 996.6,980.0 998.4,978.0 1000.3,976.0" fill="#9fc7dc"/>
<g clip-path="url(#shc)">
<path d="M990,1050 L1270,1058" stroke="#b4d8ea" stroke-width="22" filter="url(#bl4)" fill="none"/>
<path d="M990,1122 L1270,1135" stroke="#b4d8ea" stroke-width="22" filter="url(#bl4)" fill="none"/>
<path d="M990,1195 L1270,1215" stroke="#b4d8ea" stroke-width="22" filter="url(#bl4)" fill="none"/>
<path d="M990,1268 L1270,1295" stroke="#b4d8ea" stroke-width="22" filter="url(#bl4)" fill="none"/>
<path d="M990,1335 L1270,1370" stroke="#b4d8ea" stroke-width="22" filter="url(#bl4)" fill="none"/>
<filter id="bl1" filterUnits="userSpaceOnUse" x="950" y="950" width="360" height="450"><feGaussianBlur stdDeviation="1.2"/></filter><rect x="985" y="965" width="290" height="19" fill="#213746" filter="url(#bl1)"/>
<path d="M985,995 L1270,992" stroke="#7ea6bb" stroke-width="10" filter="url(#bl4)" fill="none"/>
<path d="M1030,1019 C1100,1021 1180,1025.0 1270,1027" stroke="#6390a8" stroke-width="9" filter="url(#bl4)" fill="none"/>
<path d="M1030,1092 C1100,1094 1180,1102.5 1270,1109" stroke="#5588a2" stroke-width="11" filter="url(#bl4)" fill="none"/>
<path d="M1030,1164 C1100,1166 1180,1179.5 1270,1191" stroke="#5085a0" stroke-width="12" filter="url(#bl4)" fill="none"/>
<path d="M1030,1236 C1100,1238 1180,1256.5 1270,1273" stroke="#5085a0" stroke-width="12" filter="url(#bl4)" fill="none"/>
<path d="M1030,1308 C1100,1310 1180,1331.0 1270,1350" stroke="#6a98b0" stroke-width="10" filter="url(#bl4)" fill="none"/>
</g>
<polygon points="1003.0,976.0 1257.0,971.0 1255.6,971.0 1254.1,973.0 1252.6,975.0 1251.2,977.0 1249.8,979.0 1248.6,981.0 1247.5,983.0 1246.6,985.0 1245.9,987.0 1245.4,989.0 1245.1,991.0 1245.0,993.0 1245.1,995.0 1245.5,997.0 1246.1,999.0 1246.8,1001.0 1247.8,1003.0 1248.9,1005.0 1250.1,1007.0 1251.5,1009.0 1253.0,1011.0 1254.5,1013.0 1256.0,1015.0 1257.5,1017.0 1259.0,1019.0 1260.4,1021.0 1261.7,1023.0 1262.8,1025.0 1263.8,1027.0 1264.7,1029.0 1265.3,1031.0 1265.8,1033.0 1266.0,1035.0 1266.0,1037.0 1265.8,1039.0 1265.3,1041.0 1264.7,1043.0 1263.8,1045.0 1262.8,1047.0 1261.7,1049.0 1260.4,1051.0 1259.0,1053.0 1257.5,1055.0 1256.0,1057.0 1254.5,1059.0 1253.0,1061.0 1251.5,1063.0 1250.1,1065.0 1248.9,1067.0 1247.8,1069.0 1246.8,1071.0 1246.1,1073.0 1245.5,1075.0 1245.1,1077.0 1245.0,1079.0 1245.1,1081.0 1245.4,1083.0 1245.9,1085.0 1246.6,1087.0 1247.5,1089.0 1248.6,1091.0 1249.8,1093.0 1251.2,1095.0 1252.6,1097.0 1254.1,1099.0 1255.6,1101.0 1257.1,1103.0 1258.6,1105.0 1260.0,1107.0 1261.3,1109.0 1262.5,1111.0 1263.6,1113.0 1264.5,1115.0 1265.2,1117.0 1265.7,1119.0 1265.9,1121.0 1266.0,1123.0 1265.8,1125.0 1265.4,1127.0 1264.9,1129.0 1264.1,1131.0 1263.1,1133.0 1262.0,1135.0 1260.7,1137.0 1259.3,1139.0 1257.9,1141.0 1256.4,1143.0 1254.8,1145.0 1253.3,1147.0 1251.9,1149.0 1250.5,1151.0 1249.2,1153.0 1248.0,1155.0 1247.1,1157.0 1246.2,1159.0 1245.6,1161.0 1245.2,1163.0 1245.0,1165.0 1245.0,1167.0 1245.3,1169.0 1245.8,1171.0 1246.4,1173.0 1247.3,1175.0 1248.3,1177.0 1249.5,1179.0 1250.8,1181.0 1252.2,1183.0 1253.7,1185.0 1255.2,1187.0 1256.7,1189.0 1258.2,1191.0 1259.7,1193.0 1261.0,1195.0 1262.3,1197.0 1263.3,1199.0 1264.3,1201.0 1265.0,1203.0 1265.6,1205.0 1265.9,1207.0 1266.0,1209.0 1265.9,1211.0 1265.6,1213.0 1265.0,1215.0 1264.3,1217.0 1263.3,1219.0 1262.3,1221.0 1261.0,1223.0 1259.7,1225.0 1258.2,1227.0 1256.7,1229.0 1255.2,1231.0 1253.7,1233.0 1252.2,1235.0 1250.8,1237.0 1249.5,1239.0 1248.3,1241.0 1247.3,1243.0 1246.4,1245.0 1245.8,1247.0 1245.3,1249.0 1245.0,1251.0 1245.0,1253.0 1245.2,1255.0 1245.6,1257.0 1246.2,1259.0 1247.1,1261.0 1248.0,1263.0 1249.2,1265.0 1250.5,1267.0 1251.9,1269.0 1253.3,1271.0 1254.8,1273.0 1256.4,1275.0 1257.9,1277.0 1259.3,1279.0 1260.7,1281.0 1262.0,1283.0 1263.1,1285.0 1264.1,1287.0 1264.9,1289.0 1265.4,1291.0 1265.8,1293.0 1266.0,1295.0 1265.9,1297.0 1265.7,1299.0 1265.2,1301.0 1264.5,1303.0 1263.6,1305.0 1262.5,1307.0 1261.3,1309.0 1260.0,1311.0 1258.6,1313.0 1257.1,1315.0 1255.6,1317.0 1254.1,1319.0 1252.6,1321.0 1251.2,1323.0 1249.8,1325.0 1248.6,1327.0 1247.5,1329.0 1246.6,1331.0 1245.9,1333.0 1245.4,1335.0 1245.1,1337.0 1245.0,1339.0 1245.1,1341.0 1245.5,1343.0 1246.1,1345.0 1246.8,1347.0 1247.8,1349.0 1248.9,1351.0 1250.1,1353.0 1251.5,1355.0 1253.0,1357.0 1254.5,1359.0 1256.0,1361.0 1257.5,1363.0 1262,1364 1253.6,1358 1204,1338 1129,1315.7 1054.6,1300.8 991,1288 993.1,1288.0 992.1,1286.0 991.4,1284.0 991.1,1282.0 991.0,1280.0 991.3,1278.0 992.0,1276.0 992.9,1274.0 994.2,1272.0 995.6,1270.0 997.3,1268.0 999.1,1266.0 1001.1,1264.0 1003.0,1262.0 1005.0,1260.0 1006.8,1258.0 1008.6,1256.0 1010.1,1254.0 1011.4,1252.0 1012.4,1250.0 1013.1,1248.0 1013.5,1246.0 1013.6,1244.0 1013.3,1242.0 1012.7,1240.0 1011.7,1238.0 1010.5,1236.0 1009.0,1234.0 1007.4,1232.0 1005.5,1230.0 1003.6,1228.0 1001.7,1226.0 999.7,1224.0 997.9,1222.0 996.1,1220.0 994.6,1218.0 993.3,1216.0 992.2,1214.0 991.5,1212.0 991.1,1210.0 991.0,1208.0 991.3,1206.0 991.9,1204.0 992.8,1202.0 994.0,1200.0 995.5,1198.0 997.1,1196.0 999.0,1194.0 1000.9,1192.0 1002.8,1190.0 1004.8,1188.0 1006.7,1186.0 1008.4,1184.0 1010.0,1182.0 1011.3,1180.0 1012.3,1178.0 1013.1,1176.0 1013.5,1174.0 1013.6,1172.0 1013.3,1170.0 1012.7,1168.0 1011.8,1166.0 1010.6,1164.0 1009.2,1162.0 1007.5,1160.0 1005.7,1158.0 1003.8,1156.0 1001.9,1154.0 999.9,1152.0 998.0,1150.0 996.3,1148.0 994.7,1146.0 993.4,1144.0 992.3,1142.0 991.6,1140.0 991.1,1138.0 991.0,1136.0 991.2,1134.0 991.8,1132.0 992.7,1130.0 993.9,1128.0 995.3,1126.0 997.0,1124.0 998.8,1122.0 1000.7,1120.0 1002.6,1118.0 1004.6,1116.0 1006.5,1114.0 1008.2,1112.0 1009.8,1110.0 1011.2,1108.0 1012.2,1106.0 1013.0,1104.0 1013.5,1102.0 1013.6,1100.0 1013.4,1098.0 1012.8,1096.0 1011.9,1094.0 1010.8,1092.0 1009.4,1090.0 1007.7,1088.0 1005.9,1086.0 1004.0,1084.0 1002.1,1082.0 1000.1,1080.0 998.2,1078.0 996.5,1076.0 994.9,1074.0 993.5,1072.0 992.4,1070.0 991.6,1068.0 991.1,1066.0 991.0,1064.0 991.2,1062.0 991.7,1060.0 992.6,1058.0 993.8,1056.0 995.2,1054.0 996.8,1052.0 998.6,1050.0 1000.5,1048.0 1002.4,1046.0 1004.4,1044.0 1006.3,1042.0 1008.1,1040.0 1009.7,1038.0 1011.0,1036.0 1012.1,1034.0 1013.0,1032.0 1013.4,1030.0 1013.6,1028.0 1013.4,1026.0 1012.9,1024.0 1012.0,1022.0 1010.9,1020.0 1009.5,1018.0 1007.9,1016.0 1006.1,1014.0 1004.2,1012.0 1002.3,1010.0 1000.3,1008.0 998.4,1006.0 996.6,1004.0 995.0,1002.0 993.6,1000.0 992.5,998.0 991.7,996.0 991.2,994.0 991.0,992.0 991.2,990.0 991.7,988.0 992.5,986.0 993.6,984.0 995.0,982.0 996.6,980.0 998.4,978.0 1000.3,976.0" fill="none" stroke="#e8f4fa" stroke-width="1" stroke-opacity="0.6"/>
<circle cx="1022" cy="1031" r="2.6" fill="#1c2f3a"/>
<circle cx="1022" cy="1101.8" r="2.6" fill="#1c2f3a"/>
<circle cx="1022" cy="1173.4" r="2.6" fill="#1c2f3a"/>
<circle cx="1022" cy="1244.8" r="2.6" fill="#1c2f3a"/>
<circle cx="1251" cy="1037" r="2.6" fill="#1c2f3a"/>
<circle cx="1251" cy="1124" r="2.6" fill="#1c2f3a"/>
<circle cx="1251" cy="1212.5" r="2.6" fill="#1c2f3a"/>
<circle cx="1251" cy="1299.6" r="2.6" fill="#1c2f3a"/>

<path d="M1431,925 L1458,925" stroke="#1d6f86" stroke-width="2"/><circle cx="1431.5" cy="925" r="2.5" fill="#1d6f86"/>
<path d="M1404,1177 L1457,1177" stroke="#1d6f86" stroke-width="2"/><circle cx="1404.5" cy="1177" r="3" fill="#1d6f86"/>
<circle cx="1182.5" cy="720" r="15.3" fill="#fbfdfd" stroke="#1b6176" stroke-width="2.3"/>
<text x="1182.5" y="728.2" text-anchor="middle" font-family="Liberation Sans" font-size="21" letter-spacing="-1" fill="#145b6e" stroke="#145b6e" stroke-width="0.5">10</text>
<circle cx="1152.9" cy="856.6" r="15.5" fill="#fbfdfd" stroke="#1b6176" stroke-width="2.3"/>
<text x="1152.9" y="864.8000000000001" text-anchor="middle" font-family="Liberation Sans" font-size="24" fill="#145b6e" stroke="#145b6e" stroke-width="0.5">9</text>
<circle cx="1109.6" cy="937.2" r="15.8" fill="#fbfdfd" stroke="#1b6176" stroke-width="2.3"/>
<text x="1109.6" y="945.4000000000001" text-anchor="middle" font-family="Liberation Sans" font-size="24" fill="#145b6e" stroke="#145b6e" stroke-width="0.5">6</text>
<circle cx="1245.1" cy="933.9" r="15.5" fill="#fbfdfd" stroke="#1b6176" stroke-width="2.3"/>
<text x="1245.1" y="942.1" text-anchor="middle" font-family="Liberation Sans" font-size="24" fill="#145b6e" stroke="#145b6e" stroke-width="0.5">4</text>
<circle cx="1350.7" cy="916.8" r="16" fill="#fbfdfd" stroke="#1b6176" stroke-width="2.3"/>
<text x="1350.7" y="925.0" text-anchor="middle" font-family="Liberation Sans" font-size="24" fill="#145b6e" stroke="#145b6e" stroke-width="0.5">8</text>
<circle cx="1472.6" cy="924.9" r="15" fill="#fbfdfd" stroke="#1b6176" stroke-width="2.3"/>
<text x="1472.6" y="933.1" text-anchor="middle" font-family="Liberation Sans" font-size="24" fill="#145b6e" stroke="#145b6e" stroke-width="0.5">7</text>
<circle cx="1280.0" cy="1082.7" r="16" fill="#fbfdfd" stroke="#1b6176" stroke-width="2.3"/>
<text x="1280.0" y="1090.9" text-anchor="middle" font-family="Liberation Sans" font-size="24" fill="#145b6e" stroke="#145b6e" stroke-width="0.5">3</text>
<circle cx="1108.7" cy="1122.8" r="16" fill="#fbfdfd" stroke="#1b6176" stroke-width="2.3"/>
<text x="1108.7" y="1131.0" text-anchor="middle" font-family="Liberation Sans" font-size="24" fill="#145b6e" stroke="#145b6e" stroke-width="0.5">5</text>
<circle cx="1342.9" cy="1123.4" r="16.5" fill="#fbfdfd" stroke="#1b6176" stroke-width="2.3"/>
<text x="1342.9" y="1131.6000000000001" text-anchor="middle" font-family="Liberation Sans" font-size="24" fill="#145b6e" stroke="#145b6e" stroke-width="0.5">2</text>
<circle cx="1471.7" cy="1177" r="15.5" fill="#fbfdfd" stroke="#1b6176" stroke-width="2.3"/>
<text x="1471.7" y="1185.2" text-anchor="middle" font-family="Liberation Sans" font-size="24" fill="#145b6e" stroke="#145b6e" stroke-width="0.5">1</text>
</svg></div>
</body></html>
